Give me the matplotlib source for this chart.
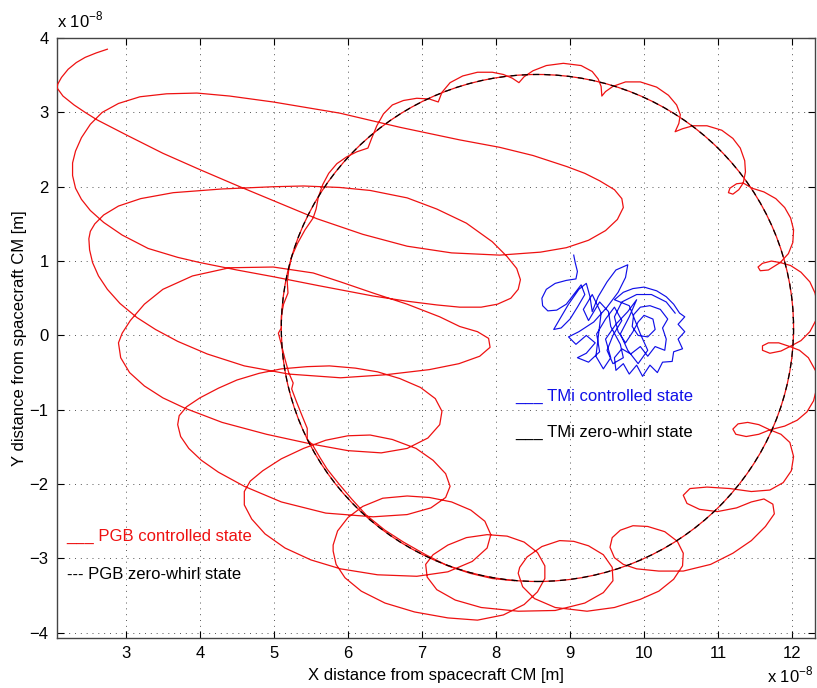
import matplotlib
matplotlib.use("Agg")
import matplotlib.pyplot as plt
from matplotlib.patches import Ellipse

plt.rcParams["font.family"] = ["Liberation Sans", "DejaVu Sans"]
plt.rcParams["font.size"] = 12

# zero-whirl circle (x1e-8 m): centre and radii
circle_center = (8.56, 0.10)
circle_rx = 3.46
circle_ry = 3.41

# PGB controlled state, traced loop by loop as (x, y) in 1e-8 m
pgb_pts = [
    # loop A
    (2.75, 3.85), (2.60, 3.80), (2.45, 3.74), (2.33, 3.67), (2.22, 3.58), (2.13, 3.47), (2.08, 3.38), (2.07, 3.33),
    (2.15, 3.22), (2.30, 3.10), (2.45, 3.00), (2.61, 2.90), (3.00, 2.70), (3.50, 2.45), (4.00, 2.23), (4.54, 2.00),
    (5.00, 1.81), (5.58, 1.57), (6.20, 1.36), (6.80, 1.20), (7.40, 1.11), (8.05, 1.08), (8.60, 1.12), (8.95, 1.18),
    (9.25, 1.28), (9.48, 1.41), (9.64, 1.56), (9.72, 1.72), (9.70, 1.84), (9.60, 1.96), (9.40, 2.08), (9.20, 2.18),
    (8.96, 2.27), (8.50, 2.42), (8.05, 2.53), (7.51, 2.63), (6.70, 2.80), (5.89, 2.99), (4.99, 3.14), (4.40, 3.22),
    (3.96, 3.26), (3.55, 3.25), (3.19, 3.21), (2.90, 3.12), (2.68, 3.00), (2.52, 2.84), (2.40, 2.66), (2.32, 2.48),
    (2.28, 2.32),
    # loop B
    (2.28, 2.15), (2.32, 1.98), (2.40, 1.83), (2.52, 1.68), (2.70, 1.52), (2.95, 1.35), (3.30, 1.17), (3.70, 1.05),
    (4.00, 0.98), (4.50, 0.88), (4.99, 0.79), (5.60, 0.67), (6.34, 0.53), (6.80, 0.46), (7.20, 0.41), (7.51, 0.38),
    (7.80, 0.38), (8.02, 0.42), (8.20, 0.50), (8.30, 0.62), (8.33, 0.75), (8.28, 0.90), (8.15, 1.06), (7.95, 1.26),
    (7.60, 1.51), (7.20, 1.70), (6.80, 1.85), (6.30, 1.95), (5.89, 1.99), (5.40, 2.01), (4.99, 2.00), (4.30, 1.97),
    (3.64, 1.92), (3.20, 1.84), (2.90, 1.74), (2.70, 1.62), (2.58, 1.50), (2.52, 1.40), (2.50, 1.30),
    # loop C
    (2.51, 1.15), (2.55, 0.98), (2.63, 0.80), (2.75, 0.62), (2.92, 0.43), (3.15, 0.24), (3.40, 0.08), (3.70, -0.08),
    (4.10, -0.25), (4.60, -0.41), (5.20, -0.52), (5.90, -0.57), (6.50, -0.53), (7.10, -0.46), (7.50, -0.38),
    (7.78, -0.28), (7.92, -0.16), (7.90, -0.04), (7.75, 0.05), (7.51, 0.12), (7.24, 0.25), (6.80, 0.42), (6.34, 0.57),
    (5.90, 0.72), (5.53, 0.84), (4.99, 0.92), (4.40, 0.91), (3.90, 0.80), (3.50, 0.62), (3.25, 0.42), (3.06, 0.20),
    (2.95, 0.03), (2.90, -0.10),
    # loop D
    (2.93, -0.30), (3.05, -0.50), (3.25, -0.68), (3.50, -0.84), (3.80, -0.98), (4.30, -1.17), (4.90, -1.33),
    (5.50, -1.46), (6.00, -1.55), (6.45, -1.58), (6.80, -1.52), (7.08, -1.38), (7.24, -1.20), (7.27, -1.02),
    (7.18, -0.85), (6.98, -0.70), (6.70, -0.58), (6.40, -0.49), (6.10, -0.44), (5.75, -0.41), (5.45, -0.42),
    (5.10, -0.45), (4.80, -0.51), (4.50, -0.60), (4.25, -0.71), (4.00, -0.84), (3.82, -0.96), (3.72, -1.08),
    # loop E
    (3.70, -1.20), (3.74, -1.36), (3.85, -1.52), (4.02, -1.68), (4.25, -1.84), (4.60, -2.03), (5.10, -2.24),
    (5.70, -2.39), (6.34, -2.44), (6.80, -2.41), (7.12, -2.32), (7.32, -2.18), (7.38, -2.03), (7.32, -1.86),
    (7.15, -1.68), (6.92, -1.52), (6.60, -1.40), (6.30, -1.34), (6.00, -1.35), (5.70, -1.41), (5.40, -1.52),
    (5.10, -1.66), (4.85, -1.82), (4.68, -1.96), (4.60, -2.10),
    # loop F
    (4.60, -2.28), (4.70, -2.47), (4.88, -2.67), (5.15, -2.86), (5.50, -3.02), (5.90, -3.14), (6.40, -3.22),
    (6.93, -3.24), (7.35, -3.18), (7.68, -3.04), (7.88, -2.86), (7.93, -2.68), (7.85, -2.50), (7.66, -2.35),
    (7.40, -2.24), (7.10, -2.18), (6.80, -2.16), (6.47, -2.19), (6.20, -2.30), (6.00, -2.45), (5.86, -2.63),
    (5.80, -2.82), (5.80, -2.90),
    # loop G
    (5.84, -3.08), (5.96, -3.26), (6.18, -3.44), (6.50, -3.60), (6.90, -3.72), (7.35, -3.80), (7.75, -3.83),
    (8.10, -3.76), (8.38, -3.62), (8.56, -3.45), (8.66, -3.27), (8.66, -3.10), (8.56, -2.92), (8.38, -2.78),
    (8.15, -2.70), (7.88, -2.68), (7.60, -2.72), (7.35, -2.82), (7.15, -2.95), (7.05, -3.08),
    # loop H
    (7.07, -3.25), (7.20, -3.42), (7.45, -3.56), (7.80, -3.66), (8.30, -3.71), (8.80, -3.70), (9.20, -3.60),
    (9.45, -3.46), (9.58, -3.30), (9.57, -3.12), (9.45, -2.95), (9.25, -2.83), (9.05, -2.77), (8.86, -2.76),
    (8.62, -2.84), (8.42, -2.98), (8.32, -3.12), (8.30, -3.20),
    # loop I
    (8.36, -3.38), (8.52, -3.54), (8.80, -3.66), (9.23, -3.71), (9.60, -3.66), (9.95, -3.55), (10.20, -3.44),
    (10.40, -3.28), (10.52, -3.10), (10.53, -2.93), (10.45, -2.77), (10.28, -2.64), (10.05, -2.57), (9.85, -2.56),
    (9.68, -2.62), (9.57, -2.72), (9.54, -2.85),
    # loop J
    (9.60, -2.99), (9.72, -3.08), (9.90, -3.14), (10.20, -3.17), (10.53, -3.17), (10.90, -3.08), (11.20, -2.93),
    (11.45, -2.76), (11.64, -2.57), (11.76, -2.40), (11.74, -2.27), (11.62, -2.20), (11.45, -2.24), (11.25, -2.32),
    (10.99, -2.37), (10.75, -2.34), (10.58, -2.26), (10.53, -2.15), (10.62, -2.06), (10.85, -2.04), (11.16, -2.06),
    (11.45, -2.10), (11.70, -2.08), (11.88, -1.98), (11.99, -1.82), (12.02, -1.63), (11.97, -1.44), (11.85, -1.33),
    (11.70, -1.27),
    # small loops up the right side
    (11.55, -1.20), (11.40, -1.17), (11.27, -1.19), (11.20, -1.26), (11.24, -1.33), (11.38, -1.36), (11.55, -1.33),
    (11.70, -1.27), (11.90, -1.22), (12.07, -1.14), (12.20, -1.03), (12.29, -0.88), (12.34, -0.68), (12.32, -0.48),
    (12.22, -0.30), (12.10, -0.20), (11.97, -0.15),
    (11.82, -0.10), (11.68, -0.10), (11.60, -0.14), (11.60, -0.20), (11.70, -0.24), (11.85, -0.21), (11.97, -0.15),
    (12.12, -0.07), (12.24, 0.05), (12.32, 0.20), (12.35, 0.38), (12.31, 0.57), (12.24, 0.72), (12.12, 0.85),
    (11.98, 0.94), (11.84, 0.98),
    (11.72, 1.00), (11.60, 0.97), (11.54, 0.92), (11.57, 0.87), (11.68, 0.88), (11.84, 0.98), (11.95, 1.10),
    (12.01, 1.25), (12.02, 1.42), (11.98, 1.58), (11.90, 1.72), (11.78, 1.84), (11.62, 1.93), (11.46, 1.98),
    (11.34, 2.05),
    (11.25, 2.04), (11.16, 1.98), (11.14, 1.92), (11.20, 1.90), (11.28, 1.96), (11.34, 2.05), (11.37, 2.20),
    (11.36, 2.35), (11.30, 2.52), (11.20, 2.65), (11.05, 2.76), (10.85, 2.82), (10.66, 2.82), (10.52, 2.78),
    (10.42, 2.74),
    # cusped arcs across the top
    (10.47, 2.85), (10.49, 2.97), (10.44, 3.10), (10.33, 3.23), (10.17, 3.34), (9.95, 3.41), (9.75, 3.41),
    (9.58, 3.35), (9.48, 3.28), (9.43, 3.22),
    (9.42, 3.35), (9.38, 3.45), (9.30, 3.55), (9.15, 3.63), (8.91, 3.66), (8.68, 3.63), (8.50, 3.56), (8.38, 3.48),
    (8.31, 3.40),
    (8.22, 3.46), (8.10, 3.51), (7.95, 3.54), (7.75, 3.54), (7.55, 3.49), (7.38, 3.40), (7.27, 3.27), (7.22, 3.14),
    (7.10, 3.18), (6.93, 3.19), (6.75, 3.16), (6.60, 3.10), (6.48, 2.98), (6.39, 2.82), (6.32, 2.65), (6.27, 2.52),
    (6.12, 2.47), (5.98, 2.40), (5.85, 2.31), (5.74, 2.18), (5.66, 2.03), (5.60, 1.86), (5.57, 1.70), (5.53, 1.58),
    # small wiggles down the left and along the bottom
    (5.42, 1.42), (5.32, 1.24), (5.24, 1.06), (5.20, 0.88), (5.18, 0.72), (5.19, 0.57), (5.13, 0.42), (5.10, 0.26),
    (5.10, 0.10), (5.06, 0.03), (5.10, -0.12), (5.15, -0.32), (5.20, -0.50), (5.26, -0.64), (5.24, -0.72),
    (5.30, -0.88), (5.38, -1.08), (5.45, -1.25), (5.45, -1.40), (5.52, -1.47), (5.62, -1.64), (5.72, -1.80),
    (5.88, -2.00), (6.05, -2.20), (6.25, -2.42), (6.50, -2.62), (6.75, -2.78), (7.05, -2.95), (7.35, -3.10),
    (7.65, -3.20), (7.95, -3.27), (8.25, -3.30),
]
pgb_x = [p[0] for p in pgb_pts]
pgb_y = [p[1] for p in pgb_pts]

# TMi controlled state (1e-8 m)
tmi_pts = [
    (9.05, 1.08), (9.07, 0.98), (9.10, 0.86), (9.08, 0.76), (8.95, 0.74), (8.80, 0.70), (8.68, 0.62), (8.62, 0.50),
    (8.63, 0.40), (8.70, 0.33), (8.82, 0.34), (8.95, 0.42), (9.05, 0.55), (9.15, 0.68), (9.20, 0.55), (9.10, 0.38),
    (9.00, 0.22), (8.88, 0.10), (8.78, 0.08), (8.85, 0.20), (8.98, 0.42), (9.12, 0.62), (9.22, 0.70), (9.27, 0.52),
    (9.30, 0.32), (9.38, 0.52), (9.50, 0.72), (9.62, 0.88), (9.78, 0.95), (9.75, 0.78), (9.65, 0.58), (9.50, 0.38),
    (9.32, 0.18), (9.12, 0.05), (8.98, -0.02), (9.08, -0.12), (9.22, 0.00), (9.34, -0.10), (9.22, -0.24),
    (9.10, -0.30), (9.25, -0.36), (9.40, -0.22), (9.36, 0.02), (9.48, 0.22), (9.60, 0.38), (9.70, 0.20),
    (9.58, 0.00), (9.50, -0.20), (9.58, -0.38), (9.72, -0.30), (9.68, -0.12), (9.55, 0.12), (9.52, 0.32),
    (9.40, 0.45), (9.25, 0.20), (9.18, 0.35), (9.30, 0.55), (9.42, 0.30), (9.35, -0.28), (9.45, -0.45),
    (9.55, -0.30), (9.48, -0.05), (9.62, 0.15), (9.78, 0.32), (9.90, 0.48), (9.80, 0.25), (9.68, 0.02),
    (9.78, -0.20), (9.92, -0.38), (10.05, -0.20), (9.95, 0.02), (9.80, 0.40),
    (9.60, 0.48), (9.72, 0.58), (9.85, 0.63), (10.00, 0.65), (10.17, 0.60), (10.30, 0.52), (10.40, 0.42),
    (10.48, 0.30), (10.55, 0.25), (10.46, 0.15), (10.55, 0.05), (10.46, -0.05), (10.52, -0.18), (10.40, -0.22),
    (10.38, -0.35), (10.25, -0.36), (10.18, -0.50), (10.08, -0.40), (9.98, -0.55), (9.90, -0.40), (9.80, -0.52),
    (9.72, -0.38), (9.62, -0.47), (9.60, -0.30), (9.70, -0.18), (9.82, -0.25), (9.95, -0.15), (10.05, -0.28),
    (10.15, -0.15), (10.28, -0.20), (10.30, -0.05), (10.25, 0.10), (10.32, 0.22), (10.22, 0.35), (10.08, 0.40),
    (9.95, 0.38), (9.86, 0.28), (9.84, 0.12), (9.92, 0.00), (10.05, -0.02), (10.15, 0.08), (10.12, 0.22),
    (10.00, 0.27), (9.92, 0.18), (9.85, 0.05), (9.75, -0.10), (9.65, 0.05), (9.60, 0.25), (9.70, 0.45),
    (9.90, 0.55), (10.10, 0.55), (10.30, 0.45), (10.42, 0.30),
]
tmi_x = [p[0] for p in tmi_pts]
tmi_y = [p[1] for p in tmi_pts]

x_ticks = [3, 4, 5, 6, 7, 8, 9, 10, 11, 12]
y_ticks = [-4, -3, -2, -1, 0, 1, 2, 3, 4]

fig = plt.figure(figsize=(8.17, 6.88), dpi=100)
ax = fig.add_axes([0.0698, 0.0727, 0.9278, 0.872])

# red: trajectory plus the converged orbit underneath
ax.plot(pgb_x, pgb_y, color="#ee1111", linewidth=0.9, zorder=3)
ax.add_patch(Ellipse(circle_center, 2 * circle_rx, 2 * circle_ry, fill=False,
                     edgecolor="#ee1111", linewidth=0.9, zorder=3))
ax.add_patch(Ellipse(circle_center, 2 * circle_rx, 2 * circle_ry, fill=False,
                     edgecolor="black", linewidth=0.9, linestyle=(0, (5, 4)), zorder=4))
ax.plot(tmi_x, tmi_y, color="#1010e8", linewidth=0.85, zorder=5)

ax.set_xlim(2.07, 12.31)
ax.set_ylim(-4.07, 4.0)
ax.set_xticks(x_ticks)
ax.set_yticks(y_ticks)
ax.grid(True, color="#555555", linestyle=(0, (1, 5)), linewidth=0.7)
ax.tick_params(direction="in", top=True, right=True, length=5, width=0.8, labelsize=12, pad=6)
for sp in ax.spines.values():
    sp.set_color("#444444")
    sp.set_linewidth(1.0)

ax.set_xlabel("X distance from spacecraft CM [m]", fontsize=12, labelpad=5)
ax.set_ylabel("Y distance from spacecraft CM [m]", fontsize=12, labelpad=2)
ax.text(0.0, 1.012, r"x 10$^{\mathregular{-8}}$", transform=ax.transAxes, ha="left", va="bottom", fontsize=12)
fig.text(0.996, 0.004, r"x 10$^{\mathregular{-8}}$", ha="right", va="bottom", fontsize=12)

# hand-made legend texts
ax.text(8.26, -0.82, "___ TMi controlled state", color="#1010e8", fontsize=12, va="center")
ax.text(8.26, -1.31, "___ TMi zero-whirl state", color="black", fontsize=12, va="center")
ax.text(2.20, -2.70, "___ PGB controlled state", color="#ee1111", fontsize=12, va="center")
ax.text(2.20, -3.22, "--- PGB zero-whirl state", color="black", fontsize=12, va="center")

fig.savefig("out.png", dpi=100)
